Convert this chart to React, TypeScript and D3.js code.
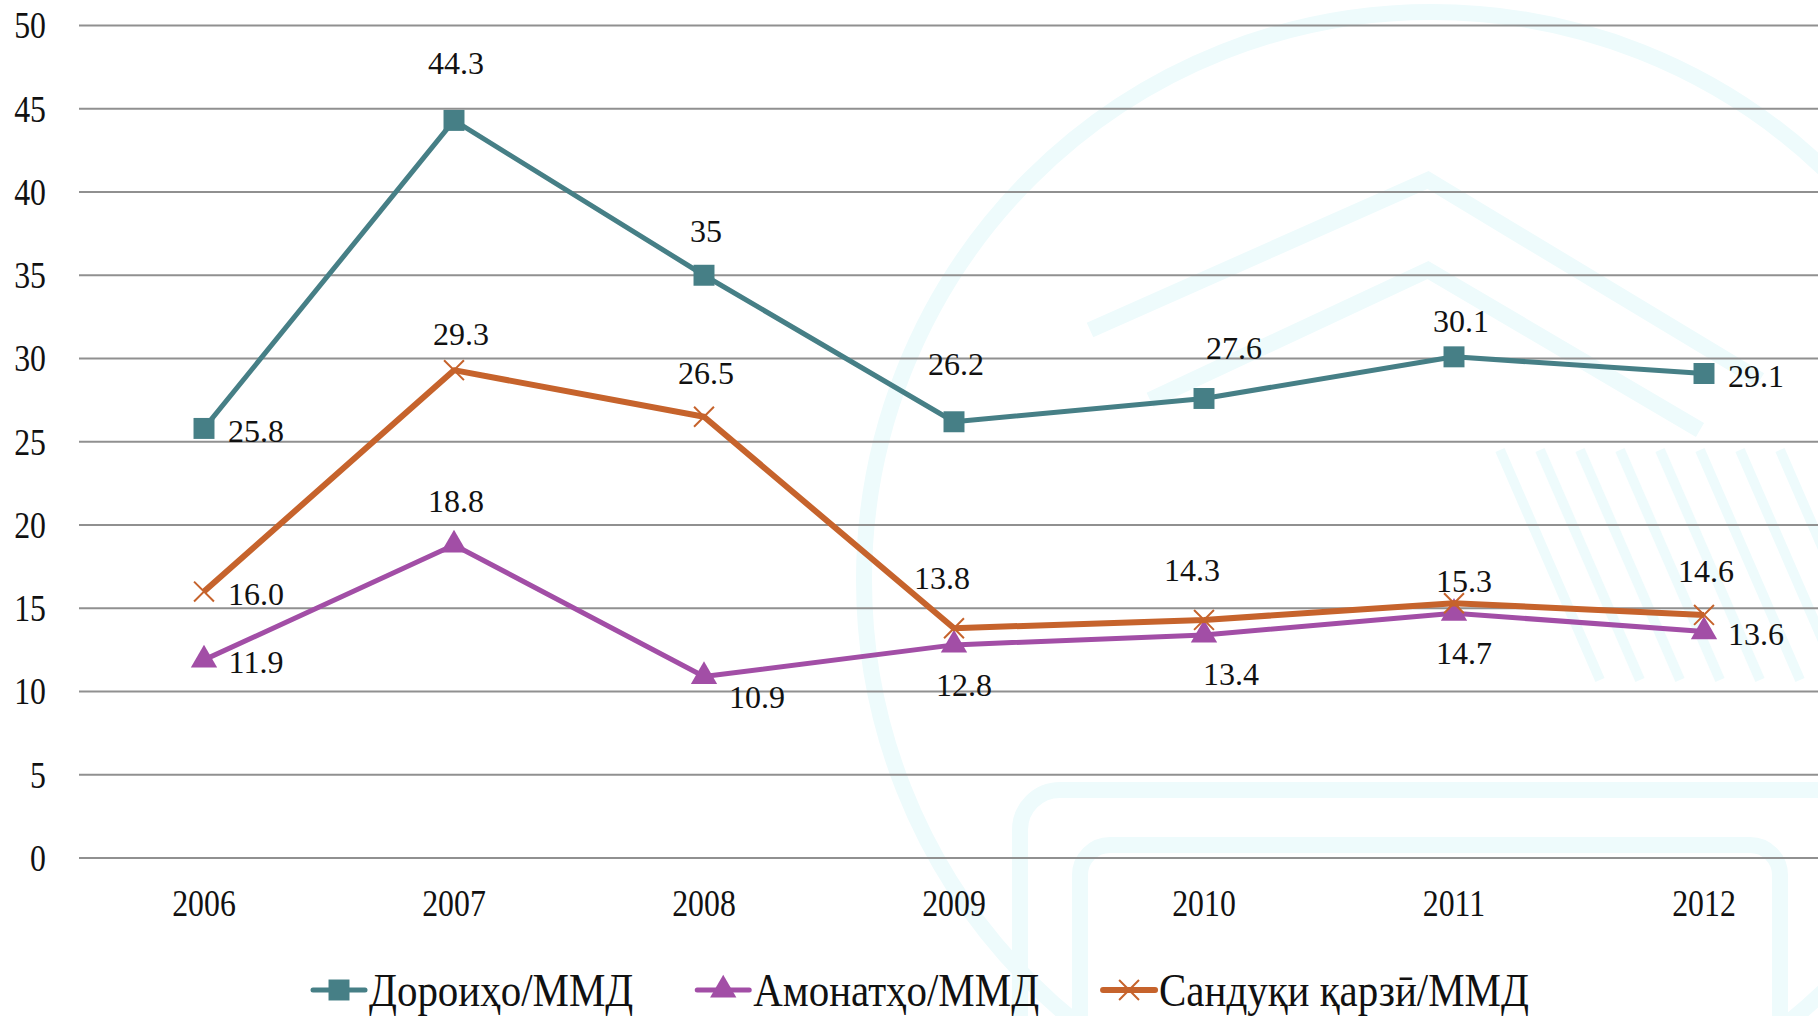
import React, { useEffect, useRef } from 'react'
import * as d3 from 'd3'

const years = ['2006', '2007', '2008', '2009', '2010', '2011', '2012']
const yTicks = [0, 5, 10, 15, 20, 25, 30, 35, 40, 45, 50]

const seriesNames = ['Дороиҳо/ММД', 'Амонатҳо/ММД', 'Сандуқи қарзӣ/ММД']
const doroiho = [25.8, 44.3, 35, 26.2, 27.6, 30.1, 29.1]
const amonatho = [11.9, 18.8, 10.9, 12.8, 13.4, 14.7, 13.6]
const sanduqi = [16.0, 29.3, 26.5, 13.8, 14.3, 15.3, 14.6]

const doroihoLabels = ['25.8', '44.3', '35', '26.2', '27.6', '30.1', '29.1']
const amonathoLabels = ['11.9', '18.8', '10.9', '12.8', '13.4', '14.7', '13.6']
const sanduqiLabels = ['16.0', '29.3', '26.5', '13.8', '14.3', '15.3', '14.6']

// where excel put each data label
const doroihoPlace = ['right', 'aboveFar', 'above', 'aboveFar', 'aboveRight', 'aboveNear', 'right']
const amonathoPlace = ['right', 'above', 'rightBelow', 'below', 'belowRight', 'below', 'right']
const sanduqiPlace = ['right', 'aboveNear', 'above', 'aboveLeft', 'aboveLeft', 'aboveClose', 'above']

const W = 1818
const H = 1016

const App = () => {
  const svgRef = useRef(null)

  useEffect(() => {
    const svg = d3.select(svgRef.current)
    svg.selectAll('*').remove()

    const margin = { top: 25.5, left: 79, bottom: 858 }
    const x = d3.scaleBand().domain(years).range([margin.left, margin.left + 250 * years.length])
    const y = d3.scaleLinear().domain([0, 50]).range([margin.bottom, margin.top])
    const cx = (d) => x(d) + x.bandwidth() / 2

    // faint watermark in the background
    const wm = svg.append('g').attr('fill', 'none').attr('stroke', '#eefbfc').attr('stroke-width', 16)
    wm.append('circle').attr('cx', 1432).attr('cy', 580).attr('r', 568)
    wm.append('polyline').attr('points', '1090,330 1428,180 1760,380')
    wm.append('polyline').attr('points', '1150,400 1428,270 1700,430')
    wm.append('rect').attr('x', 1020).attr('y', 790).attr('width', 900).attr('height', 400).attr('rx', 40)
    wm.append('rect').attr('x', 1080).attr('y', 845).attr('width', 700).attr('height', 300).attr('rx', 30)
    d3.range(8).forEach(i => {
      wm.append('line')
        .attr('x1', 1500 + i * 40).attr('y1', 450)
        .attr('x2', 1600 + i * 40).attr('y2', 680)
        .attr('stroke-width', 10)
    })

    // gridlines
    svg.append('g')
      .selectAll('line')
      .data(yTicks)
      .join('line')
        .attr('x1', margin.left)
        .attr('x2', W)
        .attr('y1', d => y(d))
        .attr('y2', d => y(d))
        .attr('stroke', '#909090')
        .attr('stroke-width', 2)

    // y labels
    svg.append('g')
      .selectAll('text')
      .data(yTicks)
      .join('text')
        .text(d => d)
        .attr('text-anchor', 'end')
        .attr('transform', d => `translate(46,${y(d)}) scale(0.86,1)`)
        .attr('dy', '0.35em')
        .attr('font-family', 'Liberation Serif')
        .attr('font-size', 37)
        .attr('fill', '#111')

    // x labels
    svg.append('g')
      .selectAll('text')
      .data(years)
      .join('text')
        .text(d => d)
        .attr('text-anchor', 'middle')
        .attr('transform', d => `translate(${cx(d)},903) scale(0.86,1)`)
        .attr('dy', '0.35em')
        .attr('font-family', 'Liberation Serif')
        .attr('font-size', 37)
        .attr('fill', '#111')

    const offsets = {
      right: [52, 2],
      above: [2, -44],
      aboveFar: [2, -58],
      aboveNear: [7, -36],
      aboveClose: [10, -22],
      aboveRight: [30, -51],
      aboveLeft: [-12, -50],
      below: [10, 40],
      belowRight: [27, 39],
      rightBelow: [53, 20],
    }

    const series = [
      { name: seriesNames[0], values: doroiho, labels: doroihoLabels, place: doroihoPlace, color: '#467f86', width: 5, symbol: d3.symbolSquare, size: 440, stroke: false },
      { name: seriesNames[1], values: amonatho, labels: amonathoLabels, place: amonathoPlace, color: '#a24ea6', width: 5, symbol: d3.symbolTriangle, size: 300, stroke: false },
      { name: seriesNames[2], values: sanduqi, labels: sanduqiLabels, place: sanduqiPlace, color: '#c6632c', width: 6, symbol: d3.symbolX, size: 260, stroke: true },
    ]

    const line = d3.line().x((d, i) => cx(years[i])).y(d => y(d))

    // draw bottom-most series first so teal sits on top like the original
    const order = [1, 2, 0]
    order.forEach(k => {
      const s = series[k]
      const g = svg.append('g')
      g.append('path')
        .datum(s.values)
        .attr('d', line)
        .attr('fill', 'none')
        .attr('stroke', s.color)
        .attr('stroke-width', s.width)
        .attr('stroke-linejoin', 'round')

      g.selectAll('path.mark')
        .data(s.values)
        .join('path')
          .attr('class', 'mark')
          .attr('transform', (d, i) => `translate(${cx(years[i])},${y(d)})`)
          .attr('d', d3.symbol(s.symbol, s.size))
          .attr('fill', s.stroke ? 'none' : s.color)
          .attr('stroke', s.stroke ? s.color : 'none')
          .attr('stroke-width', 2)
    })

    // data labels on top
    series.forEach(s => {
      svg.append('g')
        .selectAll('text')
        .data(s.values)
        .join('text')
          .text((d, i) => s.labels[i])
          .attr('x', (d, i) => cx(years[i]) + offsets[s.place[i]][0])
          .attr('y', (d, i) => y(d) + offsets[s.place[i]][1])
          .attr('dy', '0.35em')
          .attr('text-anchor', 'middle')
          .attr('font-family', 'Liberation Serif')
          .attr('font-size', 32)
          .attr('fill', '#111')
    })

    // legend (nudged up a little so the descenders stay inside the frame)
    const legend = svg.append('g').attr('transform', 'translate(313,990)')
    let lx = 0
    series.forEach(s => {
      const item = legend.append('g').attr('transform', `translate(${lx},0)`)
      item.append('line')
        .attr('x1', 0).attr('x2', 52)
        .attr('stroke', s.color)
        .attr('stroke-width', s.width)
        .attr('stroke-linecap', 'round')
      item.append('path')
        .attr('transform', 'translate(26,0)')
        .attr('d', d3.symbol(s.symbol, s.size))
        .attr('fill', s.stroke ? 'none' : s.color)
        .attr('stroke', s.stroke ? s.color : 'none')
        .attr('stroke-width', 2)
      const t = item.append('text')
        .text(s.name)
        .attr('transform', 'translate(56,0) scale(0.89,1)')
        .attr('dy', '0.35em')
        .attr('font-family', 'Liberation Serif')
        .attr('font-size', 46)
        .attr('fill', '#111')
      const tw = t.node().getComputedTextLength() * 0.89
      lx += 56 + tw + 64
    })
  }, [])

  return (
    <svg
      ref={svgRef}
      width={W}
      height={H}
      style={{ position: 'absolute', left: 0, top: 0, display: 'block', background: '#fff' }}
    />
  )
}

export default App
